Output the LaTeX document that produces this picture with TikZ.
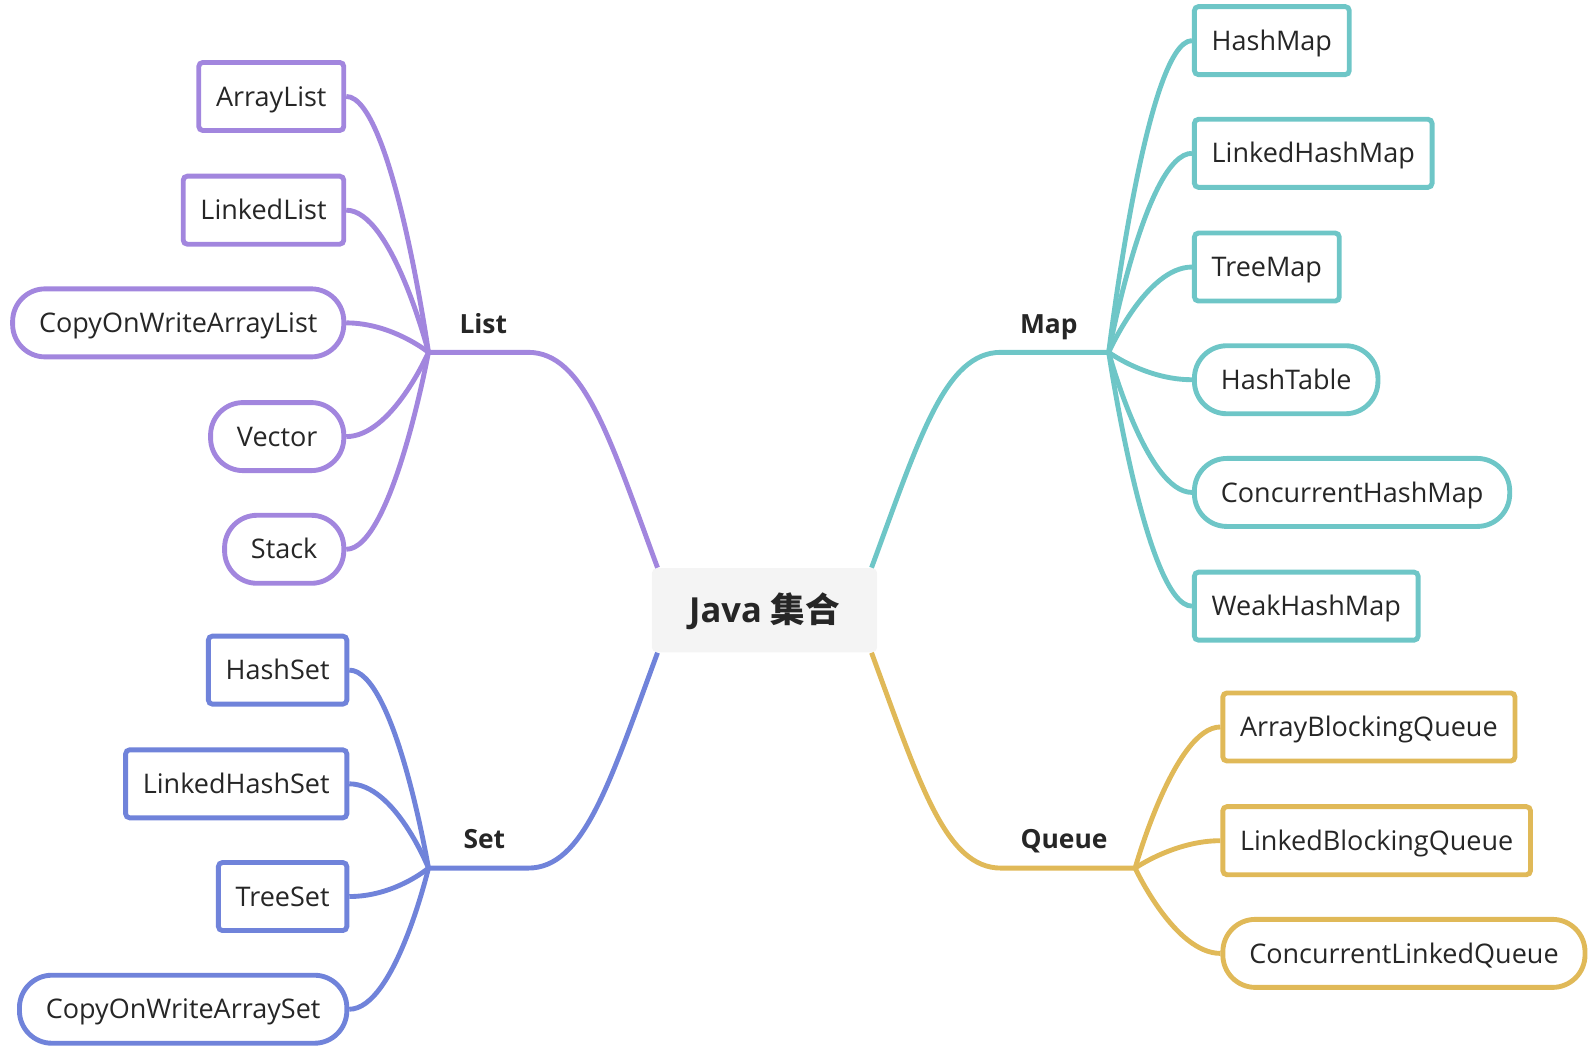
\documentclass[tikz,border=0pt]{standalone}
\usepackage{fontspec}
\setmainfont{Open Sans}
\newfontfamily\cjk{Noto Sans CJK SC}
\usepackage{xcolor}
\usepackage{tikz}
\definecolor{clist}{HTML}{A286DE}
\definecolor{cset}{HTML}{7083DA}
\definecolor{cmap}{HTML}{6EC6C7}
\definecolor{cqueue}{HTML}{E0B958}
\definecolor{txt}{HTML}{262626}
\definecolor{rootbg}{HTML}{F4F4F4}
\begin{document}
\begin{tikzpicture}[x=0.5pt,y=-0.5pt,
    every node/.style={font=\fontsize{13.3}{16}\selectfont,text=txt},
    box/.style={draw,line width=2.4pt,rounded corners=2pt,minimum height=33.5pt,inner xsep=8.5pt,
                text height=9.5pt,text depth=0pt},
    pill/.style={box,rounded corners=16pt,inner xsep=13pt},
    branch/.style={font=\bfseries\fontsize{13}{16}\selectfont,anchor=base},
    link/.style={line width=2.4pt}]
  \useasboundingbox (0,0) rectangle (1568,1035);
  \node[fill=rootbg,rounded corners=2.5pt,minimum width=111pt,minimum height=41.5pt,
        text height=12pt,text depth=0pt,
        font=\bfseries\fontsize{17}{20}\selectfont] (root) at (753,601) {Java {\cjk 集合}};
  % junctions
  \coordinate (jl) at (422,347);
  \coordinate (js) at (422,855);
  \coordinate (jm) at (1092,347);
  \coordinate (jq) at (1118,855);
  % branch labels
  \node[branch] (list) at (476,328) {List};
  \node[branch] (set) at (477,836) {Set};
  \node[branch] (map) at (1033,328) {Map};
  \node[branch] (queue) at (1048,836) {Queue};
  % List
  \node[box,draw=clist,anchor=east] (al) at (341,95) {ArrayList};
  \node[box,draw=clist,anchor=east] (ll) at (341,207) {LinkedList};
  \node[pill,draw=clist,anchor=east] (cl) at (341,318) {CopyOnWriteArrayList};
  \node[pill,draw=clist,anchor=east] (ve) at (341,430) {Vector};
  \node[pill,draw=clist,anchor=east] (st) at (341,541) {Stack};
  % Set
  \node[box,draw=cset,anchor=east] (hs) at (344,660) {HashSet};
  \node[box,draw=cset,anchor=east] (lhs) at (344,772) {LinkedHashSet};
  \node[box,draw=cset,anchor=east] (ts) at (344,883) {TreeSet};
  \node[pill,draw=cset,anchor=east] (cs) at (344,994) {CopyOnWriteArraySet};
  % Map
  \node[box,draw=cmap,anchor=west] (hm) at (1174,40) {HashMap};
  \node[box,draw=cmap,anchor=west] (lhm) at (1174,151) {LinkedHashMap};
  \node[box,draw=cmap,anchor=west] (tm) at (1174,263) {TreeMap};
  \node[pill,draw=cmap,anchor=west] (ht) at (1174,374) {HashTable};
  \node[pill,draw=cmap,anchor=west] (chm) at (1174,485) {ConcurrentHashMap};
  \node[box,draw=cmap,anchor=west] (whm) at (1174,597) {WeakHashMap};
  % Queue
  \node[box,draw=cqueue,anchor=west] (abq) at (1202,716) {ArrayBlockingQueue};
  \node[box,draw=cqueue,anchor=west] (lbq) at (1202,828) {LinkedBlockingQueue};
  \node[pill,draw=cqueue,anchor=west] (clq) at (1202,939) {ConcurrentLinkedQueue};
  % main branches
  \draw[link,clist] ([xshift=3pt]root.north west) .. controls (600,430) and (575,347) .. (520,347) -- (jl);
  \draw[link,cset] ([xshift=3pt]root.south west) .. controls (600,772) and (575,855) .. (520,855) -- (js);
  \draw[link,cmap] ([xshift=-3pt]root.north east) .. controls (906,430) and (931,347) .. (986,347) -- (jm);
  \draw[link,cqueue] ([xshift=-3pt]root.south east) .. controls (906,772) and (931,855) .. (986,855) -- (jq);
  % leaves
  \foreach \n in {al,ll,cl,ve,st}
    \draw[link,clist] (\n.east) .. controls +(45,0) and (jl) .. (jl);
  \foreach \n in {hs,lhs,ts,cs}
    \draw[link,cset] (\n.east) .. controls +(45,0) and (js) .. (js);
  \foreach \n in {hm,lhm,tm,ht,chm,whm}
    \draw[link,cmap] (jm) .. controls (jm) and +(-45,0) .. (\n.west);
  \foreach \n in {abq,lbq,clq}
    \draw[link,cqueue] (jq) .. controls (jq) and +(-45,0) .. (\n.west);
\end{tikzpicture}
\end{document}
